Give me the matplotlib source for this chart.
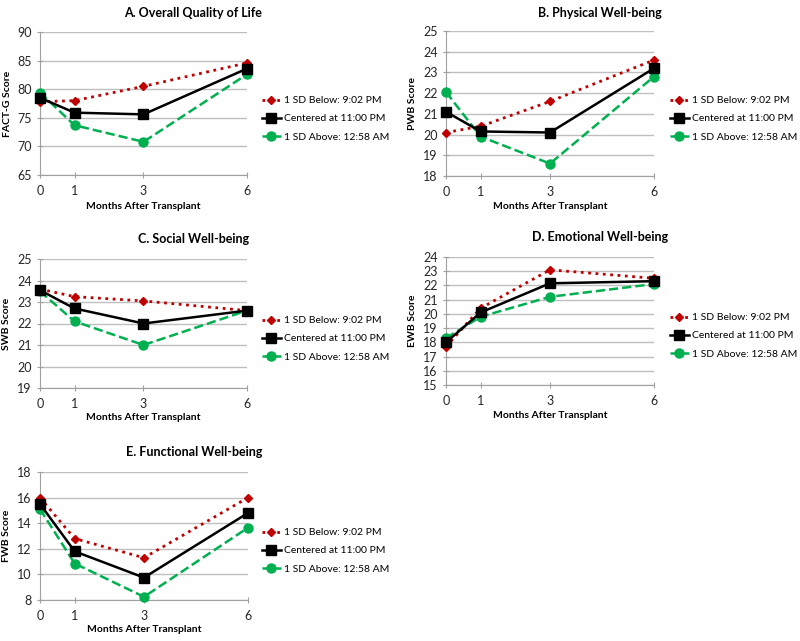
import matplotlib.pyplot as plt

plt.rcParams['font.family'] = ['Lato', 'DejaVu Sans']

months = [0, 1, 3, 6]
labels = ['1 SD Below: 9:02 PM', 'Centered at 11:00 PM', '1 SD Above: 12:58 AM']

# A. Overall Quality of Life
factg_below = [77.8, 78.0, 80.5, 84.6]
factg_center = [78.5, 75.9, 75.6, 83.6]
factg_above = [79.4, 73.7, 70.8, 82.6]

# B. Physical Well-being
pwb_below = [20.1, 20.4, 21.6, 23.6]
pwb_center = [21.1, 20.15, 20.1, 23.2]
pwb_above = [22.05, 19.9, 18.6, 22.8]

# C. Social Well-being
swb_below = [23.6, 23.25, 23.05, 22.6]
swb_center = [23.55, 22.7, 22.0, 22.6]
swb_above = [23.5, 22.1, 21.0, 22.6]

# D. Emotional Well-being
ewb_below = [17.7, 20.4, 23.1, 22.5]
ewb_center = [18.0, 20.1, 22.15, 22.3]
ewb_above = [18.3, 19.8, 21.2, 22.1]

# E. Functional Well-being
fwb_below = [16.0, 12.8, 11.3, 16.0]
fwb_center = [15.5, 11.8, 9.75, 14.8]
fwb_above = [15.1, 10.85, 8.25, 13.65]

W, H = 800, 641
fig = plt.figure(figsize=(W / 100, H / 100), dpi=100)
fig.patch.set_facecolor('white')


def px(x, y):
    return x / W, 1 - y / H


def panel(box, title, title_xy, ylabel, ylim, yticks, below, center, above, leg_xy, xlab_y):
    left, top, right, bottom = box
    ax = fig.add_axes([left / W, 1 - bottom / H, (right - left) / W, (bottom - top) / H])
    ax.plot(months, below, color='#C00000', linestyle=':', linewidth=2,
            marker='D', markersize=4.5, label=labels[0], clip_on=False, zorder=3)
    ax.plot(months, center, color='black', linestyle='-', linewidth=1.8,
            marker='s', markersize=6.5, label=labels[1], clip_on=False, zorder=4)
    ax.plot(months, above, color='#00B050', linestyle='--', linewidth=1.8,
            marker='o', markersize=6.5, label=labels[2], clip_on=False, zorder=3)
    ax.set_xlim(0, 6)
    ax.set_ylim(*ylim)
    ax.set_xticks(months)
    ax.set_yticks(yticks)
    ax.yaxis.grid(True, color='#bfbfbf', linewidth=1)
    ax.set_axisbelow(True)
    for s in ['top', 'right']:
        ax.spines[s].set_visible(False)
    for s in ['left', 'bottom']:
        ax.spines[s].set_color('#a0a0a0')
    ax.tick_params(axis='both', direction='inout', length=5, color='#a0a0a0',
                   labelsize=9, labelcolor='#262626')
    ax.tick_params(axis='x', pad=5)
    ax.set_ylabel(ylabel, fontsize=7.5, fontweight='bold', labelpad=4)
    tx, ty = px(*title_xy)
    fig.text(tx, ty, title, ha='center', va='center', fontsize=9, fontweight='bold')
    cx, cy = px((left + right) / 2, xlab_y)
    fig.text(cx, cy, 'Months After Transplant', ha='center', va='center', fontsize=7.5,
             fontweight='bold')
    lx, ly = px(*leg_xy)
    ax.legend(loc='upper left', bbox_to_anchor=(lx, ly), bbox_transform=fig.transFigure,
              frameon=False, fontsize=7.5, handlelength=1.8, handletextpad=0.3,
              labelspacing=0.85, borderaxespad=0, borderpad=0)
    return ax


panel((40, 32, 247, 175), 'A. Overall Quality of Life', (193, 13), 'FACT-G Score',
      (65, 90), [65, 70, 75, 80, 85, 90], factg_below, factg_center, factg_above,
      (262, 96), 207)
panel((446, 31, 654, 176), 'B. Physical Well-being', (600, 13), 'PWB Score',
      (18, 25), list(range(18, 26)), pwb_below, pwb_center, pwb_above,
      (670, 96), 207)
panel((40, 259, 247, 388), 'C. Social Well-being', (194, 239), 'SWB Score',
      (19, 25), list(range(19, 26)), swb_below, swb_center, swb_above,
      (262, 316), 418)
panel((446, 257, 654, 385), 'D. Emotional Well-being', (600, 237), 'EWB Score',
      (15, 24), list(range(15, 25)), ewb_below, ewb_center, ewb_above,
      (670, 313), 415)
panel((40, 472, 248, 600), 'E. Functional Well-being', (194, 452), 'FWB Score',
      (8, 18), [8, 10, 12, 14, 16, 18], fwb_below, fwb_center, fwb_above,
      (262, 528), 630)

fig.savefig('out.png', dpi=100)
